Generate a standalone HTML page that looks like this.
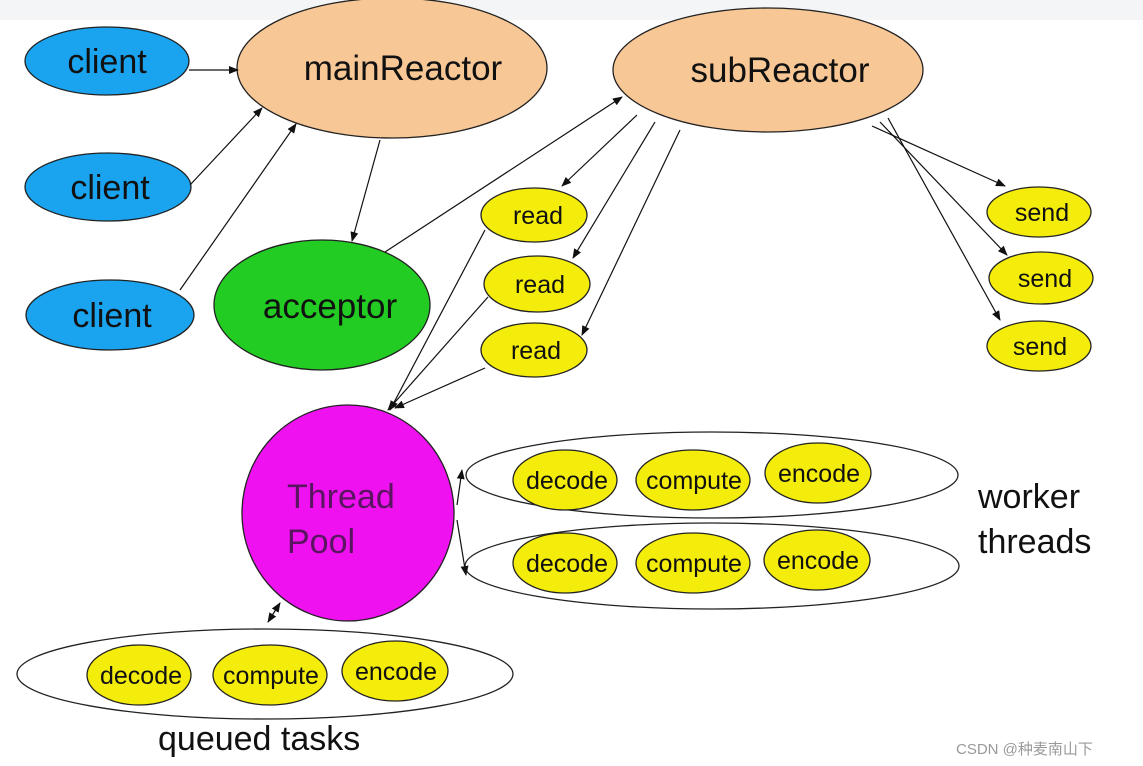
<!DOCTYPE html>
<html><head><meta charset="utf-8"><style>
html,body{margin:0;padding:0;background:#fff;}
svg{display:block;font-family:"Liberation Sans","DejaVu Sans",sans-serif;}
</style></head><body>
<svg width="1143" height="766" viewBox="0 0 1143 766">
<defs><marker id="a" markerWidth="10" markerHeight="8" refX="9" refY="4" orient="auto" markerUnits="userSpaceOnUse"><path d="M0,0 L10,4 L0,8 z" fill="#111"/></marker>
<marker id="b" markerWidth="10" markerHeight="8" refX="1" refY="4" orient="auto" markerUnits="userSpaceOnUse"><path d="M10,0 L0,4 L10,8 z" fill="#111"/></marker></defs>
<rect width="1143" height="20" fill="#f4f5f7"/>
<g stroke="#222" stroke-width="1.3">
<ellipse cx="107" cy="61" rx="82" ry="34" fill="#1aa3ef"/>
<ellipse cx="108" cy="187" rx="83" ry="34" fill="#1aa3ef"/>
<ellipse cx="110" cy="315" rx="84" ry="35" fill="#1aa3ef"/>
<ellipse cx="392" cy="68" rx="155" ry="70" fill="#f8c796"/>
<ellipse cx="768" cy="70" rx="155" ry="62" fill="#f8c796"/>
<ellipse cx="322" cy="305" rx="108" ry="65" fill="#22cc22"/>
<ellipse cx="534" cy="215" rx="53" ry="27" fill="#f4ec0a"/>
<ellipse cx="537" cy="284" rx="53" ry="28" fill="#f4ec0a"/>
<ellipse cx="534" cy="350" rx="53" ry="27" fill="#f4ec0a"/>
<ellipse cx="1039" cy="212" rx="52" ry="25" fill="#f4ec0a"/>
<ellipse cx="1041" cy="278" rx="52" ry="26" fill="#f4ec0a"/>
<ellipse cx="1039" cy="346" rx="52" ry="25" fill="#f4ec0a"/>
<ellipse cx="348" cy="513" rx="106" ry="108" fill="#f011f0"/>
<ellipse cx="712" cy="475" rx="246" ry="43" fill="none"/>
<ellipse cx="712" cy="566" rx="247" ry="43" fill="none"/>
<ellipse cx="265" cy="674" rx="248" ry="45" fill="none"/>
<g fill="#f4ec0a">
<ellipse cx="565" cy="480" rx="52" ry="30"/><ellipse cx="693" cy="480" rx="57" ry="30"/><ellipse cx="818" cy="473" rx="53" ry="30"/>
<ellipse cx="565" cy="563" rx="52" ry="30"/><ellipse cx="693" cy="563" rx="57" ry="30"/><ellipse cx="817" cy="560" rx="53" ry="30"/>
<ellipse cx="139" cy="675" rx="52" ry="30"/><ellipse cx="270" cy="675" rx="57" ry="30"/><ellipse cx="395" cy="671" rx="53" ry="30"/>
</g>
</g>
<g stroke="#111" stroke-width="1.2" fill="none" marker-end="url(#a)">
<line x1="189" y1="70" x2="238" y2="70"/>
<line x1="190" y1="185" x2="262" y2="108"/>
<line x1="180" y1="290" x2="296" y2="124"/>
<line x1="380" y1="140" x2="352" y2="241"/>
<line x1="385" y1="252" x2="622" y2="97"/>
<line x1="637" y1="115" x2="562" y2="186"/>
<line x1="655" y1="122" x2="573" y2="258"/>
<line x1="680" y1="130" x2="582" y2="335"/>
<line x1="485" y1="230" x2="390" y2="410"/>
<line x1="488" y1="297" x2="388" y2="410"/>
<line x1="485" y1="368" x2="395" y2="408"/>
<line x1="872" y1="126" x2="1005" y2="186"/>
<line x1="880" y1="122" x2="1007" y2="255"/>
<line x1="888" y1="118" x2="1000" y2="320"/>
<line x1="457" y1="505" x2="462" y2="470"/>
<line x1="457" y1="520" x2="466" y2="575"/>
<line x1="268" y1="622" x2="280" y2="603" marker-start="url(#b)"/>
</g>
<g fill="#111" text-anchor="middle">
<text x="107" y="73" font-size="34">client</text>
<text x="110" y="199" font-size="34">client</text>
<text x="112" y="327" font-size="34">client</text>
<text x="403" y="80" font-size="35">mainReactor</text>
<text x="780" y="82" font-size="35">subReactor</text>
<text x="330" y="318" font-size="35">acceptor</text>
<text x="538" y="224" font-size="25">read</text>
<text x="540" y="293" font-size="25">read</text>
<text x="536" y="359" font-size="25">read</text>
<text x="1042" y="221" font-size="25">send</text>
<text x="1045" y="287" font-size="25">send</text>
<text x="1040" y="355" font-size="25">send</text>
</g>
<g fill="#5a1560" font-size="34"><text x="287" y="508">Thread</text><text x="287" y="553">Pool</text></g>
<g fill="#111" font-size="25" text-anchor="middle">
<text x="567" y="489">decode</text><text x="694" y="489">compute</text><text x="819" y="482">encode</text>
<text x="567" y="572">decode</text><text x="694" y="572">compute</text><text x="818" y="569">encode</text>
<text x="141" y="684">decode</text><text x="271" y="684">compute</text><text x="396" y="680">encode</text>
</g>
<g fill="#111" font-size="34"><text x="978" y="508">worker</text><text x="978" y="553">threads</text><text x="158" y="750">queued tasks</text></g>
<text x="956" y="754" font-size="15" fill="#999" font-family="Liberation Sans,Noto Sans CJK SC,sans-serif">CSDN @种麦南山下</text>
</svg>
</body></html>
